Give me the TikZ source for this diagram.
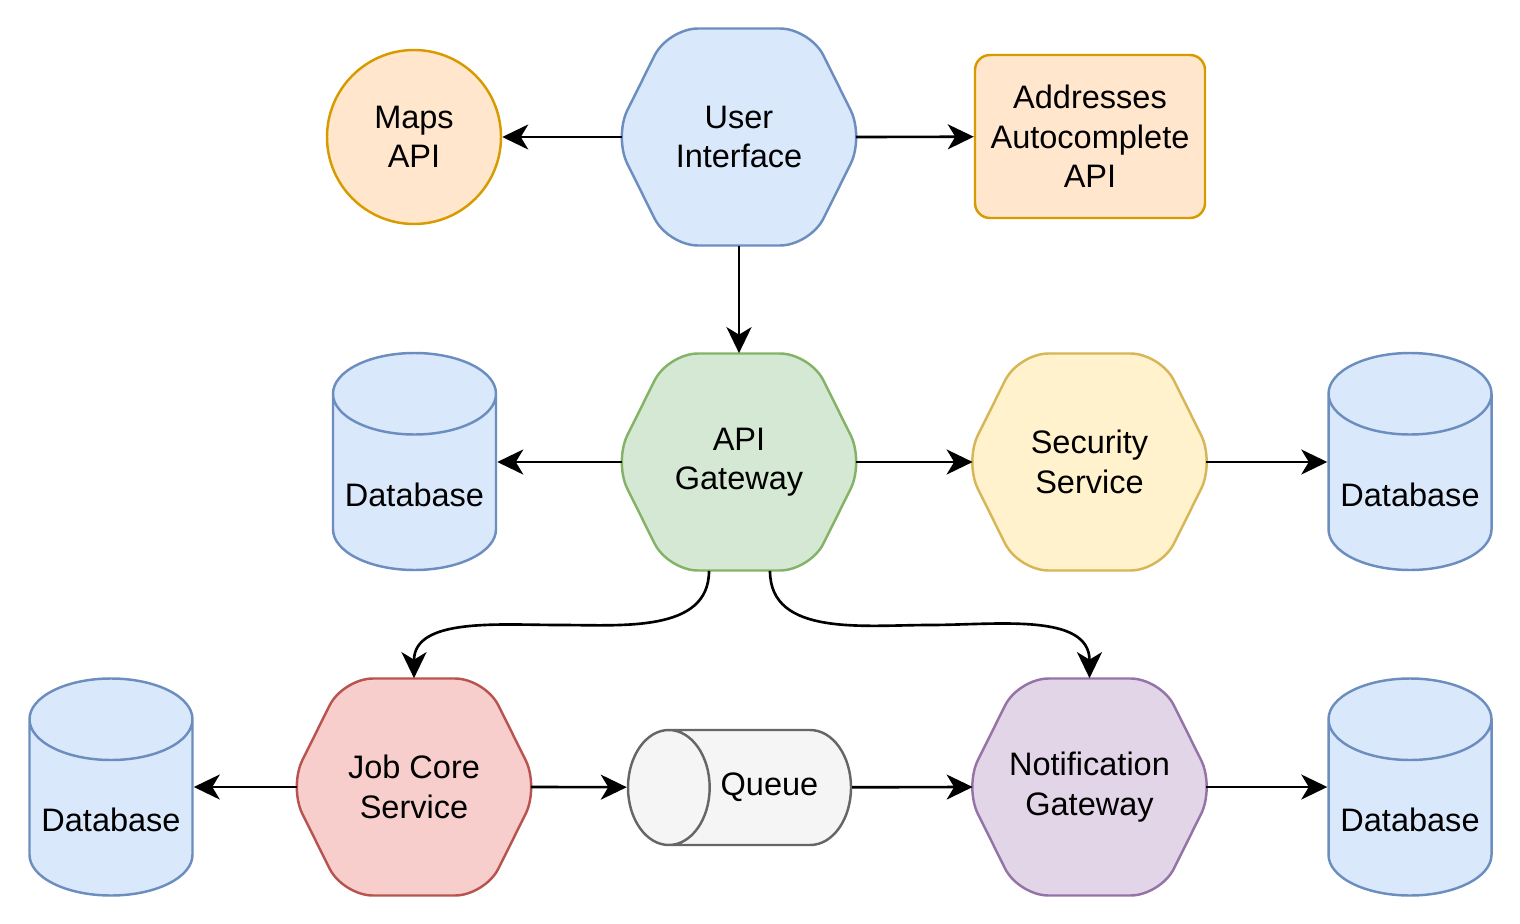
\documentclass[tikz,border=0pt]{standalone}
\usepackage{fontspec}
\setmainfont{Liberation Sans}
\usetikzlibrary{shapes.geometric,arrows.meta}

\definecolor{bluefill}{HTML}{DAE8FC}
\definecolor{bluedraw}{HTML}{6C8EBF}
\definecolor{orangefill}{HTML}{FFE6CC}
\definecolor{orangedraw}{HTML}{D79B00}
\definecolor{greenfill}{HTML}{D5E8D4}
\definecolor{greendraw}{HTML}{82B366}
\definecolor{yellowfill}{HTML}{FFF2CC}
\definecolor{yellowdraw}{HTML}{D6B656}
\definecolor{redfill}{HTML}{F8CECC}
\definecolor{reddraw}{HTML}{B85450}
\definecolor{purplefill}{HTML}{E1D5E7}
\definecolor{purpledraw}{HTML}{9673A6}
\definecolor{grayfill}{HTML}{F5F5F5}
\definecolor{graydraw}{HTML}{666666}

\tikzset{
  label text/.style={font=\fontsize{18.5}{22.5}\selectfont, align=center},
  hexline/.style={line width=1.4pt, rounded corners=0.6cm},
  hextext/.style={label text, minimum width=4.66cm, minimum height=4.34cm, inner sep=0pt},
  dbcyl/.style={cylinder, shape border rotate=90, aspect=0.5, anchor=shape center, draw=bluedraw, fill=bluefill,
    line width=1.4pt, minimum width=3.26cm, minimum height=4.34cm, inner sep=0pt},
  link/.style={line width=1.5pt, -{Stealth[length=0.52cm, width=0.5cm, inset=0.15cm]}},
}

% hexagon: style, name, position, text
\newcommand{\hexnode}[4]{%
  \draw[hexline, #1, shift={(#3)}] (-2.5,0) -- (-1.42,2.17) -- (1.42,2.17) -- (2.5,0)
    -- (1.42,-2.17) -- (-1.42,-2.17) -- cycle;
  \node[hextext] (#2) at (#3) {#4};
}

\begin{document}
\begin{tikzpicture}
    \useasboundingbox (0,0) rectangle (30.4,-18.48);

    % top row
    \node[label text, circle, draw=orangedraw, fill=orangefill, line width=1.4pt, minimum size=3.48cm] (maps) at (8.28,-2.74) {Maps\\API};
    \hexnode{draw=bluedraw, fill=bluefill}{ui}{14.78,-2.74}{User\\Interface}
    \node[label text, rectangle, rounded corners=0.3cm, draw=orangedraw, fill=orangefill, line width=1.4pt,
      minimum width=4.6cm, minimum height=3.26cm] (addr) at (21.8,-2.73) {Addresses\\Autocomplete\\API};

    % middle row
    \node[dbcyl] (db1) at (8.29,-9.23) {\hbox to 3.26cm{}};
    \node[label text] (db1-text) at ([yshift=-0.66cm]db1.shape center) {Database};
    \hexnode{draw=greendraw, fill=greenfill}{gw}{14.78,-9.24}{API\\Gateway}
    \hexnode{draw=yellowdraw, fill=yellowfill}{sec}{21.79,-9.24}{Security\\Service}
    \node[dbcyl] (db2) at (28.2,-9.23) {\hbox to 3.26cm{}};
    \node[label text] (db2-text) at ([yshift=-0.66cm]db2.shape center) {Database};

    % bottom row
    \node[dbcyl] (db3) at (2.22,-15.74) {\hbox to 3.26cm{}};
    \node[label text] (db3-text) at ([yshift=-0.66cm]db3.shape center) {Database};
    \hexnode{draw=reddraw, fill=redfill}{job}{8.28,-15.74}{Job Core\\Service}
    \node[cylinder, shape border rotate=180, aspect=0.71, anchor=shape center, draw=graydraw, fill=grayfill,
      line width=1.4pt, minimum width=2.3cm, minimum height=4.46cm, inner sep=0pt] (queue) at (14.79,-15.75) {\rule{0pt}{2.3cm}};
    \node[label text] (queue-text) at ([xshift=0.6cm]queue.shape center) {Queue};
    \hexnode{draw=purpledraw, fill=purplefill}{notif}{21.79,-15.74}{Notification\\Gateway}
    \node[dbcyl] (db4) at (28.2,-15.74) {\hbox to 3.26cm{}};
    \node[label text] (db4-text) at ([yshift=-0.66cm]db4.shape center) {Database};

    \coordinate (jl) at (11.2,-12.5);
    \coordinate (jr) at (18.6,-12.5);

    % connectors
    \draw[link] (ui.west) -- (maps);
    \draw[link] (ui.east) -- (addr);
    \draw[link] (ui.south) -- (gw.north);
    \draw[link] (gw.west) -- (gw.west -| db1.east);
    \draw[link] (gw.east) -- (sec.west);
    \draw[link] (sec.east) -- (sec.east -| db2.west);
    \draw[link] ([xshift=-0.6cm]gw.south) to[out=-90,in=0] (jl) to[out=180,in=90] (job.north);
    \draw[link] ([xshift=0.62cm]gw.south) to[out=-90,in=180] (jr) to[out=0,in=90] (notif.north);
    \draw[link] (job.west) -- (job.west -| db3.east);
    \draw[link] (job.east) -- (queue);
    \draw[link] (queue) -- (notif.west);
    \draw[link] (notif.east) -- (notif.east -| db4.west);
\end{tikzpicture}
\end{document}
